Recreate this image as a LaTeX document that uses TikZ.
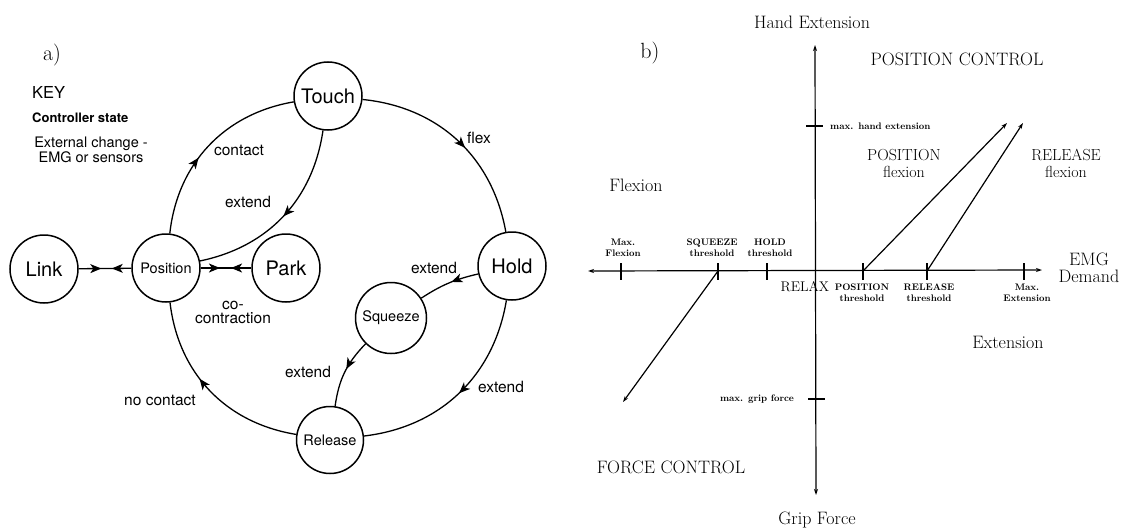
\documentclass[tikz,border=0pt]{standalone}
\usepackage{fontspec}
\newfontfamily\hv{TeX Gyre Heros}
\usetikzlibrary{arrows.meta,decorations.markings}
\begin{document}
\begin{tikzpicture}[x=1pt,y=1pt,
  every node/.style={inner sep=0pt},
  state/.style={circle,draw,line width=1.5pt,minimum size=68pt,font=\hv\fontsize{20}{20}\selectfont},
  smallstate/.style={state,font=\hv\fontsize{14.5}{15}\selectfont},
  conn/.style={line width=1.3pt},
  marr/.style={postaction={decorate,decoration={markings,mark=at position #1 with {\arrow{Stealth[length=11pt,width=9pt,inset=3pt]}}}}},
  rarr/.style={postaction={decorate,decoration={markings,mark=at position #1 with {\arrowreversed{Stealth[length=11pt,width=9pt,inset=3pt]}}}}},
  elab/.style={font=\hv\fontsize{15.5}{14}\selectfont,align=center},
  axis/.style={line width=1.2pt},
  stip/.style={-{Stealth[length=6pt,width=4pt]}},
  big/.style={font=\fontsize{18}{17}\selectfont,align=center},
  mid/.style={font=\fontsize{16}{17}\selectfont,align=center},
  tiny/.style={font=\bfseries\fontsize{9.5}{11}\selectfont,align=center},
]
\fill[white] (0,0) rectangle (1128,-530);
\useasboundingbox (0,0) rectangle (1128,-530);

% ---------- panel a ----------
\node[font=\fontsize{22}{22}\selectfont] (la) at (52,-55) {a)};
\node[anchor=west,font=\hv\fontsize{16.5}{16}\selectfont] (key) at (32,-92) {KEY};
\node[anchor=west,font=\hv\bfseries\fontsize{13}{13}\selectfont] (cs) at (32,-118) {Controller state};
\node[align=center,font=\hv\fontsize{14.5}{13}\selectfont] (ext) at (91,-150) {External change -\\EMG or sensors};

\node[state] (touch) at (328,-96) {Touch};
\node[state] (hold) at (512,-266) {Hold};
\node[state] (link) at (44,-269) {Link};
\node[state] (park) at (286,-268) {Park};
\node[smallstate] (pos) at (166,-268) {Position};
\node[smallstate,minimum size=71pt] (sq) at (391,-318) {Squeeze};
\node[smallstate,minimum size=67pt] (rel) at (330,-440) {Release};

\draw[conn,marr=0.42] (pos) to[bend left=37] (touch);
\draw[conn,marr=0.55] (touch) to[bend left=37] (hold);
\draw[conn,marr=0.5] (hold) to[bend left=37] (rel);
\draw[conn,marr=0.58] (rel) to[bend left=37] (pos);
\draw[conn,marr=0.5] (touch) to[bend left=35] (pos);
\draw[conn,marr=0.45] (hold) to[bend right=10] (sq);
\draw[conn,marr=0.45] (sq) to[bend right=18] (rel);
\draw[conn,marr=0.43,rarr=0.63] (link) -- (pos);
\draw[conn,marr=0.38,rarr=0.6] (pos) -- (park);

\node[elab] (lcontact) at (239,-150) {contact};
\node[elab] (lext1) at (248,-202) {extend};
\node[elab] (lflex) at (479,-138) {flex};
\node[elab] (lext2) at (434,-268) {extend};
\node[elab] (lext3) at (501,-387) {extend};
\node[elab] (lext4) at (308,-372) {extend};
\node[elab] (lnoc) at (160,-400) {no contact};
\node[elab] (lcoc) at (233,-312) {co-\\contraction};

% ---------- panel b ----------
\node[font=\fontsize{22}{22}\selectfont] (lb) at (650,-53) {b)};

\coordinate (vtop) at (815,-45);
\coordinate (vbot) at (816,-495);
\coordinate (hleft) at (588,-271);
\coordinate (hright) at (1042,-270);
\draw[axis,{Stealth[length=6pt,width=4pt]}-{Stealth[length=6pt,width=4pt]}] (vbot) -- (vtop);
\draw[axis,{Stealth[length=6pt,width=4pt]}-{Stealth[length=6pt,width=4pt]}] (hleft) -- (hright);

% ticks on horizontal axis
\foreach \tx in {621,718,767,863,927,1024} \draw[axis] (\tx,-263) -- (\tx,-280);
% ticks on vertical axis
\draw[axis] (806,-126) -- (823,-126);
\draw[axis] (808,-399) -- (825,-399);

\coordinate (tpos) at (863,-271);
\coordinate (trel) at (927,-271);
\coordinate (tsq) at (718,-271);
\coordinate (epos) at (1007,-123);
\coordinate (erel) at (1023,-123);
\coordinate (esq) at (623,-402);
\draw[axis,stip] (tpos) -- (epos);
\draw[axis,stip] (trel) -- (erel);
\draw[axis,stip] (tsq) -- (esq);

\node[big] (handext) at (812,-22) {Hand Extension};
\node[big] (posctl) at (957,-59) {POSITION CONTROL};
\node[tiny,anchor=west] (maxhand) at (830,-126) {max. hand extension};
\node[mid] (posflex) at (904,-163) {POSITION\\flexion};
\node[mid] (relflex) at (1066,-163) {RELEASE\\flexion};
\node[big] (flexion) at (636,-185) {Flexion};
\node[tiny] (maxflex) at (623,-248) {Max.\\Flexion};
\node[tiny] (sqth) at (712,-248) {SQUEEZE\\threshold};
\node[tiny] (holdth) at (770,-248) {HOLD\\threshold};
\node[big] (emg) at (1089,-268) {EMG\\Demand};
\node[font=\fontsize{14}{14}\selectfont] (relax) at (805,-287) {RELAX};
\node[tiny] (posth) at (862,-293) {POSITION\\threshold};
\node[tiny] (relth) at (929,-293) {RELEASE\\threshold};
\node[tiny] (maxext) at (1027,-293) {Max.\\Extension};
\node[big] (extension) at (1008,-342) {Extension};
\node[tiny] (maxgrip) at (757,-399) {max. grip force};
\node[big] (forcectl) at (671,-467) {FORCE CONTROL};
\node[big] (grip) at (817,-520) {Grip Force};
\end{tikzpicture}
\end{document}
